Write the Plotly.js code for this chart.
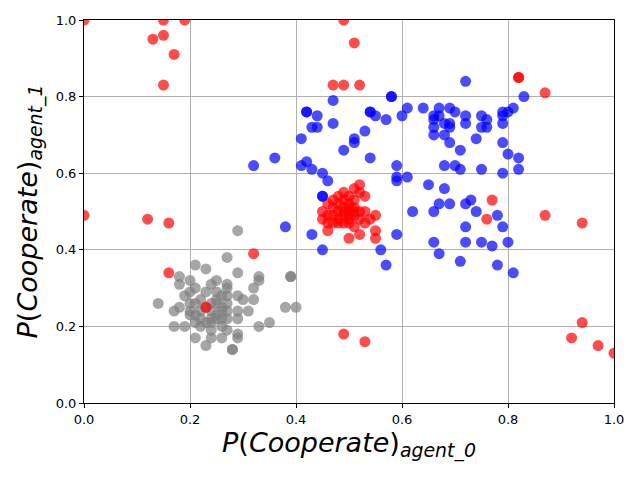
<!DOCTYPE html>
<html>
<head>
<meta charset="utf-8">
<script src="https://cdn.plot.ly/plotly-3.0.1.min.js"></script>
<style>html,body{margin:0;padding:0;background:#fff;}#chart{width:640px;height:480px;}</style>
</head>
<body>
<div id="chart"></div>
<script>
// Gray cluster
const grayX = [0.29,0.27,0.21,0.23,0.29,0.18,0.20,0.18,0.24,0.25,0.27,0.33,0.33,0.39,0.39,0.32,0.21,0.19,0.23,0.27,0.29,0.30,0.32,0.14,0.18,0.17,0.20,0.22,0.25,0.27,0.31,0.38,0.40,0.20,0.24,0.27,0.29,0.29,0.17,0.19,0.21,0.22,0.24,0.25,0.27,0.29,0.29,0.33,0.35,0.21,0.24,0.26,0.23,0.28,0.28,0.20,0.25,0.26,0.24,0.23,0.26,0.25,0.26,0.24,0.22,0.21,0.20,0.26,0.25,0.21,0.22,0.27,0.23,0.26,0.24,0.27];
const grayY = [0.45,0.38,0.36,0.35,0.34,0.33,0.32,0.31,0.31,0.32,0.31,0.33,0.32,0.33,0.33,0.30,0.30,0.28,0.29,0.30,0.28,0.27,0.27,0.26,0.25,0.24,0.26,0.27,0.27,0.26,0.24,0.25,0.25,0.24,0.24,0.24,0.24,0.22,0.20,0.20,0.21,0.20,0.21,0.22,0.19,0.18,0.17,0.20,0.21,0.17,0.17,0.17,0.15,0.14,0.14,0.29,0.29,0.28,0.26,0.25,0.25,0.23,0.22,0.22,0.22,0.23,0.23,0.24,0.26,0.26,0.24,0.22,0.21,0.20,0.19,0.28];

// Red points
const redX = [0.00,0.13,0.15,0.15,0.19,0.17,0.15,0.00,0.12,0.16,0.16,0.23,0.32,0.47,0.49,0.52,0.49,0.51,0.82,0.82,0.87,0.77,0.76,0.87,0.94,0.49,0.53,0.92,0.94,0.97,1.00,
  0.52,0.51,0.52,0.53,0.48,0.46,0.53,0.55,0.54,0.45,0.45,0.46,0.50,0.52,0.55,0.55,0.51,
  0.47,0.48,0.49,0.50,0.51,0.47,0.48,0.49,0.50,0.51,0.52,0.47,0.48,0.49,0.50,0.51,0.52,0.49,0.50,0.48,0.46,0.46,0.50,0.49,0.51,0.50,0.49,0.53,0.47,0.50];
const redY = [1.00,0.95,0.96,1.00,1.00,0.91,0.83,0.49,0.48,0.47,0.34,0.25,0.39,0.83,0.83,0.83,1.00,0.94,0.85,0.85,0.81,0.53,0.48,0.49,0.47,0.18,0.16,0.17,0.21,0.15,0.13,
  0.57,0.56,0.55,0.54,0.54,0.52,0.50,0.49,0.48,0.50,0.48,0.45,0.43,0.44,0.45,0.43,0.46,
  0.53,0.52,0.53,0.52,0.53,0.51,0.50,0.51,0.50,0.51,0.50,0.49,0.48,0.49,0.48,0.49,0.48,0.47,0.47,0.47,0.49,0.47,0.54,0.55,0.50,0.51,0.50,0.47,0.47,0.49];

// Blue points
const blueX = [0.47,0.42,0.42,0.44,0.43,0.44,0.47,0.41,0.51,0.51,0.49,0.32,0.36,0.41,0.42,0.43,0.45,0.46,0.45,0.45,
  0.72,0.58,0.58,0.83,0.54,0.54,0.55,0.57,0.60,0.61,0.64,0.67,0.69,0.70,0.66,0.67,0.66,0.72,0.72,0.75,0.76,0.75,0.76,0.79,0.79,0.80,0.81,0.79,0.66,0.66,0.68,0.69,0.69,0.68,0.69,0.71,0.74,0.79,0.80,0.82,0.82,0.79,0.75,0.71,0.70,0.68,0.59,0.59,0.59,0.61,0.54,0.53,0.65,0.68,
  0.62,0.66,0.67,0.69,0.72,0.73,0.74,0.78,0.79,0.72,0.59,0.66,0.72,0.75,0.77,0.80,0.67,0.71,0.78,0.81,0.56,0.57,0.38,0.43,0.45];
const blueY = [0.79,0.76,0.76,0.75,0.72,0.72,0.73,0.69,0.69,0.68,0.66,0.62,0.64,0.62,0.63,0.61,0.60,0.58,0.54,0.54,
  0.84,0.80,0.80,0.80,0.76,0.76,0.75,0.74,0.75,0.77,0.77,0.77,0.77,0.76,0.75,0.75,0.74,0.75,0.73,0.75,0.74,0.72,0.72,0.76,0.75,0.76,0.77,0.73,0.72,0.70,0.73,0.73,0.72,0.70,0.68,0.66,0.69,0.68,0.65,0.64,0.61,0.60,0.61,0.61,0.62,0.62,0.62,0.59,0.58,0.59,0.64,0.71,0.57,0.56,
  0.50,0.50,0.52,0.52,0.52,0.53,0.50,0.49,0.46,0.46,0.44,0.42,0.42,0.42,0.41,0.42,0.39,0.37,0.36,0.34,0.40,0.36,0.46,0.44,0.40];

const tickVals = [0, 0.2, 0.4, 0.6, 0.8, 1.0];
const tickText = ["0.0", "0.2", "0.4", "0.6", "0.8", "1.0"];

function series(x, y, color) {
  return {
    type: 'scatter', mode: 'markers', x: x, y: y,
    marker: {size: 11, color: color, opacity: 0.7, line: {width: 0}},
    hoverinfo: 'skip', showlegend: false
  };
}

const data = [
  series(grayX, grayY, 'rgb(128,128,128)'),
  series(redX, redY, 'rgb(255,0,0)'),
  series(blueX, blueY, 'rgb(0,0,255)')
];

const axisCommon = {
  range: [0, 1], tickvals: tickVals, ticktext: tickText,
  showgrid: true, gridcolor: '#b0b0b0', gridwidth: 1,
  zeroline: false, showline: true, mirror: true, linecolor: '#000', linewidth: 1,
  ticks: 'outside', ticklen: 4, tickcolor: '#000', tickwidth: 1,
  tickfont: {family: 'DejaVu Sans', size: 13, color: '#000'}
};

const layout = {
  width: 640, height: 480,
  paper_bgcolor: '#fff', plot_bgcolor: '#fff',
  margin: {l: 84, r: 26, t: 20, b: 77},
  xaxis: Object.assign({}, axisCommon, {
    title: {text: '<i>P</i>(<i>Cooperate</i>)<sub><i>agent_0</i></sub>',
            font: {family: 'DejaVu Sans', size: 27, color: '#000'}, standoff: 6}
  }),
  yaxis: Object.assign({}, axisCommon, {
    title: {text: '<i>P</i>(<i>Cooperate</i>)<sub><i>agent_1</i></sub>',
            font: {family: 'DejaVu Sans', size: 27, color: '#000'}, standoff: 10}
  })
};

Plotly.newPlot('chart', data, layout, {displayModeBar: false, staticPlot: true});
</script>
</body>
</html>
